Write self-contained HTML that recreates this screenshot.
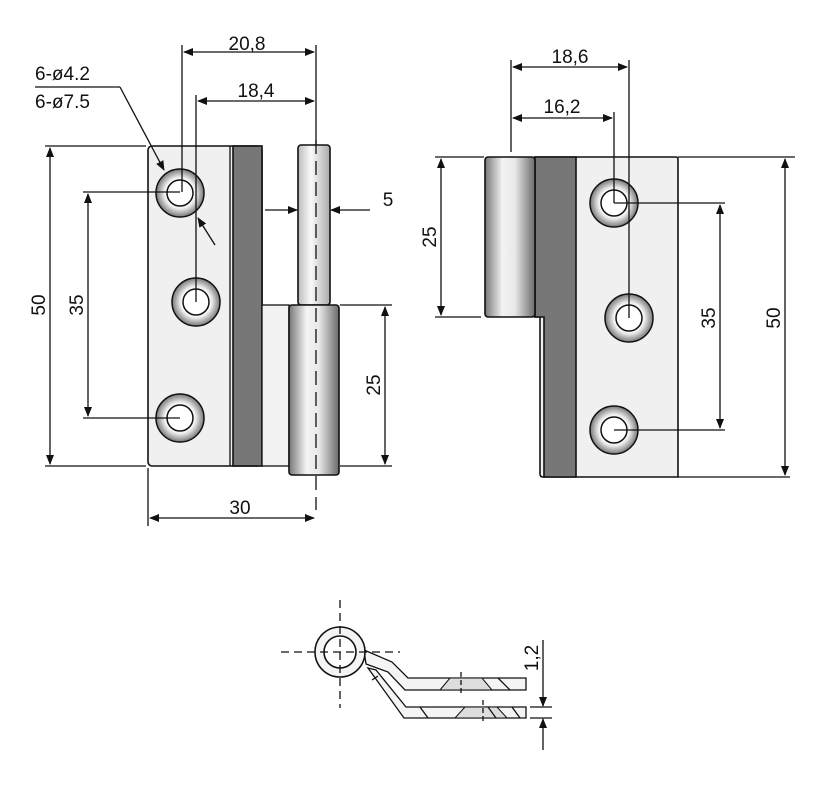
<!DOCTYPE html>
<html><head><meta charset="utf-8"><style>
html,body{margin:0;padding:0;background:#fff;}
svg{display:block;}
text{font-family:"Liberation Sans",sans-serif;font-size:19px;fill:#111;}
</style></head><body>
<svg width="814" height="800" viewBox="0 0 814 800" xmlns="http://www.w3.org/2000/svg">
<defs>
<linearGradient id="cyl" x1="0" x2="1" y1="0" y2="0">
<stop offset="0" stop-color="#777"/><stop offset="0.35" stop-color="#f4f4f4"/><stop offset="0.6" stop-color="#e8e8e8"/><stop offset="1" stop-color="#6a6a6a"/></linearGradient>
<linearGradient id="pin" x1="0" x2="1"><stop offset="0" stop-color="#bbb"/><stop offset="0.4" stop-color="#fafafa"/><stop offset="1" stop-color="#aaa"/></linearGradient>
<radialGradient id="hole" cx="0.5" cy="0.5" r="0.5"><stop offset="0.5" stop-color="#fff"/><stop offset="0.65" stop-color="#eee"/><stop offset="1" stop-color="#777"/></radialGradient>
<marker id="a" markerWidth="10" markerHeight="8" refX="9" refY="4" orient="auto-start-reverse" markerUnits="userSpaceOnUse"><path d="M0,0 L10,4 L0,8z" fill="#111"/></marker>
<g id="h"><circle r="24" fill="url(#hole)" stroke="#111" stroke-width="1.5"/><circle r="13" fill="#fff" stroke="#111" stroke-width="1.5"/></g>
</defs>
<g stroke="#111" stroke-width="1.3" fill="none">
<!-- LEFT VIEW -->
<rect x="148" y="146" width="114" height="320" rx="4" fill="#f0f0f0" stroke-width="1.6"/>
<rect x="233" y="146" width="29" height="320" fill="#777" stroke-width="1.6"/>
<line x1="230" y1="146" x2="230" y2="466"/>
<rect x="262" y="305" width="27" height="161" fill="#f2f2f2"/>
<rect x="298" y="145" width="32" height="160" rx="3" fill="url(#pin)" stroke-width="1.6"/>
<rect x="289" y="305" width="50" height="170" rx="3" fill="url(#cyl)" stroke-width="1.6"/>
<use href="#h" x="180" y="193"/><use href="#h" x="196" y="302"/><use href="#h" x="180" y="418"/>
<line x1="316" y1="140" x2="316" y2="510" stroke-dasharray="14,7"/>
<!-- dims left -->
<line x1="45" y1="146" x2="146" y2="146"/><line x1="45" y1="466" x2="146" y2="466"/>
<line x1="50" y1="148" x2="50" y2="464" marker-start="url(#a)" marker-end="url(#a)"/>
<line x1="83" y1="192" x2="180" y2="192"/><line x1="83" y1="418" x2="180" y2="418"/>
<line x1="88" y1="194" x2="88" y2="416" marker-start="url(#a)" marker-end="url(#a)"/>
<line x1="182" y1="45" x2="182" y2="192"/><line x1="316" y1="45" x2="316" y2="145"/>
<line x1="184" y1="52" x2="314" y2="52" marker-start="url(#a)" marker-end="url(#a)"/>
<line x1="196" y1="95" x2="196" y2="302"/>
<line x1="198" y1="101" x2="314" y2="101" marker-start="url(#a)" marker-end="url(#a)"/>
<line x1="265" y1="210" x2="297" y2="210" marker-end="url(#a)"/>
<line x1="370" y1="210" x2="331" y2="210" marker-end="url(#a)"/>
<line x1="340" y1="305" x2="392" y2="305"/><line x1="340" y1="466" x2="392" y2="466"/>
<line x1="385" y1="307" x2="385" y2="464" marker-start="url(#a)" marker-end="url(#a)"/>
<line x1="148" y1="468" x2="148" y2="526"/>
<line x1="150" y1="518" x2="314" y2="518" marker-start="url(#a)" marker-end="url(#a)"/>
<line x1="35" y1="87" x2="120" y2="87"/>
<line x1="120" y1="87" x2="164" y2="170" marker-end="url(#a)"/>
<line x1="215" y1="245" x2="198" y2="218" marker-end="url(#a)"/>
<!-- RIGHT VIEW -->
<path d="M535,157 H676 Q678,157 678,160 V477 H543 Q540,477 540,474 V317 H535 Z" fill="#f0f0f0" stroke-width="1.6"/>
<path d="M535,157 H576 V477 H544 V317 H535 Z" fill="#777" stroke-width="1.6"/>
<rect x="485" y="157" width="50" height="160" rx="3" fill="url(#cyl)" stroke-width="1.6"/>
<use href="#h" x="614" y="203"/><use href="#h" x="629" y="318"/><use href="#h" x="614" y="430"/>
<line x1="435" y1="157" x2="484" y2="157"/><line x1="435" y1="317" x2="481" y2="317"/>
<line x1="441" y1="159" x2="441" y2="315" marker-start="url(#a)" marker-end="url(#a)"/>
<line x1="511" y1="60" x2="511" y2="152"/><line x1="629" y1="60" x2="629" y2="318"/>
<line x1="513" y1="67" x2="627" y2="67" marker-start="url(#a)" marker-end="url(#a)"/>
<line x1="614" y1="112" x2="614" y2="203"/>
<line x1="513" y1="118" x2="612" y2="118" marker-start="url(#a)" marker-end="url(#a)"/>
<line x1="614" y1="203" x2="725" y2="203"/><line x1="614" y1="430" x2="725" y2="430"/>
<line x1="720" y1="205" x2="720" y2="428" marker-start="url(#a)" marker-end="url(#a)"/>
<line x1="678" y1="157" x2="795" y2="157"/><line x1="678" y1="477" x2="790" y2="477"/>
<line x1="785" y1="159" x2="785" y2="475" marker-start="url(#a)" marker-end="url(#a)"/>
<!-- BOTTOM VIEW -->
<path d="M364,650 L392,662 L408,678 H526 V690 H405 L388,672 L366,664 Z" fill="#f4f4f4"/>
<path d="M368,668 L376,670 L406,707 H526 V718 H404 Z" fill="#f4f4f4"/>
<line x1="378" y1="676" x2="372" y2="680"/>
<path d="M440,690 L450,678 H482 L492,690 Z" fill="#ddd" stroke-width="1"/>
<path d="M455,718 L465,707 H497 L507,718 Z" fill="#ddd" stroke-width="1"/>
<line x1="498" y1="678" x2="510" y2="690"/><line x1="488" y1="707" x2="496" y2="718"/><line x1="512" y1="707" x2="520" y2="718"/><line x1="420" y1="707" x2="428" y2="718"/>
<circle cx="340" cy="652" r="25" fill="#f4f4f4" stroke-width="1.6"/>
<circle cx="340" cy="652" r="16" fill="#fff" stroke-width="1.6"/>
<line x1="281" y1="652" x2="400" y2="652" stroke-dasharray="8,5"/>
<line x1="340" y1="600" x2="340" y2="708" stroke-dasharray="8,5"/>
<line x1="461" y1="672" x2="461" y2="696" stroke-dasharray="5,3"/>
<line x1="483" y1="700" x2="483" y2="724" stroke-dasharray="5,3"/>
<line x1="530" y1="707" x2="552" y2="707"/><line x1="530" y1="718" x2="552" y2="718"/>
<line x1="543" y1="640" x2="543" y2="706" marker-end="url(#a)"/>
<line x1="543" y1="750" x2="543" y2="719" marker-end="url(#a)"/>
</g>
<!-- labels -->
<text x="247" y="50" text-anchor="middle">20,8</text>
<text x="256" y="97" text-anchor="middle">18,4</text>
<text x="35" y="80">6-ø4.2</text>
<text x="35" y="108">6-ø7.5</text>
<text x="388" y="206" text-anchor="middle">5</text>
<text x="240" y="514" text-anchor="middle">30</text>
<text transform="translate(45,305) rotate(-90)" text-anchor="middle">50</text>
<text transform="translate(83,305) rotate(-90)" text-anchor="middle">35</text>
<text transform="translate(380,385) rotate(-90)" text-anchor="middle">25</text>
<text x="570" y="63" text-anchor="middle">18,6</text>
<text x="562" y="113" text-anchor="middle">16,2</text>
<text transform="translate(436,237) rotate(-90)" text-anchor="middle">25</text>
<text transform="translate(715,318) rotate(-90)" text-anchor="middle">35</text>
<text transform="translate(780,318) rotate(-90)" text-anchor="middle">50</text>
<text transform="translate(538,658) rotate(-90)" text-anchor="middle">1,2</text>
</svg>
</body></html>
